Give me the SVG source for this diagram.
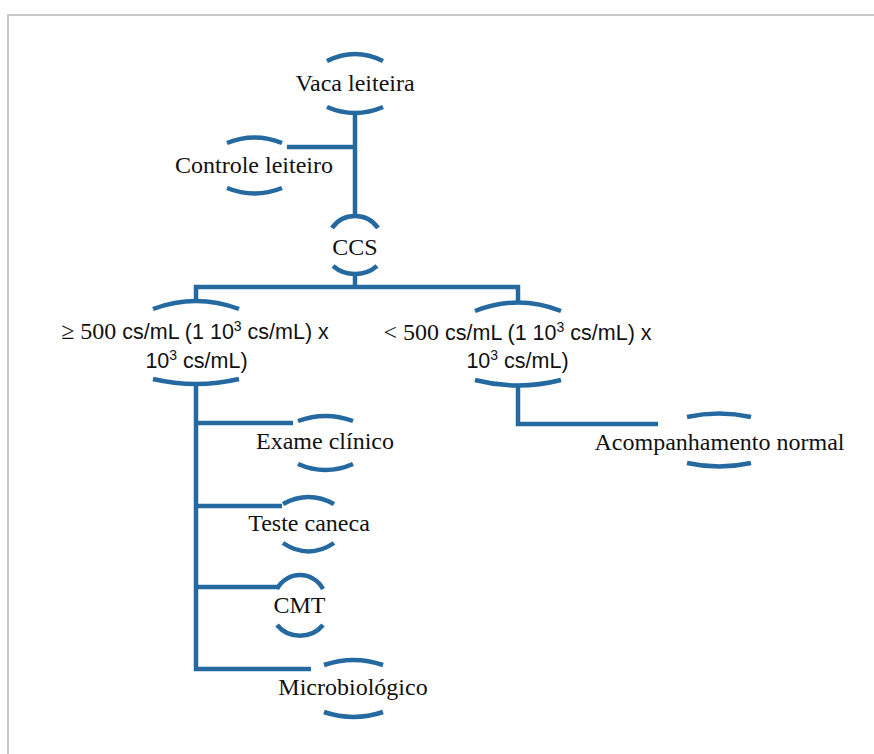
<svg xmlns="http://www.w3.org/2000/svg" width="874" height="754" viewBox="0 0 874 754">
<style>
.arc{fill:none;stroke:#246aa1;stroke-width:4.5;stroke-linecap:butt}
.con{fill:none;stroke:#246aa1;stroke-width:4.5;stroke-linejoin:miter}
.t{font-family:"Liberation Serif","Times New Roman",serif;font-size:24px;fill:#111;text-anchor:middle}
.s{font-family:"Liberation Sans",Arial,sans-serif;font-size:21.5px}
.sup{font-size:14px}
</style>
<rect x="8" y="15" width="900" height="800" fill="#fff" stroke="#c8c8c8" stroke-width="2"/>
<g id="connectors">
<path class="con" d="M355 113 V217"/>
<path class="con" d="M287 147 H355"/>
<path class="con" d="M355 273 V287"/>
<path class="con" d="M196 301 V287 H518 V302"/>
<path class="con" d="M518 385 V424 H658"/>
<path class="con" d="M196 384 V669 H311"/>
<path class="con" d="M196 423 H293"/>
<path class="con" d="M196 506 H282"/>
<path class="con" d="M196 587 H278"/>
</g>
<g id="vaca">
<path class="arc" d="M327 61 Q355 47 383 61"/>
<path class="arc" d="M327 107 Q355 119 383 107"/>
<text class="t" x="355" y="91">Vaca leiteira</text>
</g>
<g id="controle">
<path class="arc" d="M227 143 Q254.5 132 282 143"/>
<path class="arc" d="M227 188 Q254.5 199 282 188"/>
<text class="t" x="254" y="173">Controle leiteiro</text>
</g>
<g id="ccs">
<path class="arc" d="M332 228 A28 28 0 0 1 378 228"/>
<path class="arc" d="M333 266 A34 34 0 0 0 377 266"/>
<text class="t" x="355" y="255">CCS</text>
</g>
<g id="maior">
<path class="arc" d="M153 309 Q196 293 239 309"/>
<path class="arc" d="M153 379 Q196 389 239 379"/>
<text class="t" x="195" y="339">≥ 500 <tspan class="s">cs/mL (1 10</tspan><tspan class="s sup" dy="-8">3</tspan><tspan class="s" dy="8"> cs/mL) x</tspan></text>
<text class="t" x="196.5" y="368"><tspan class="s">10</tspan><tspan class="s sup" dy="-8">3</tspan><tspan class="s" dy="8"> cs/mL)</tspan></text>
</g>
<g id="menor">
<path class="arc" d="M475 311 Q518 294 561 311"/>
<path class="arc" d="M475 380 Q518 391 561 380"/>
<text class="t" x="517.5" y="340">&lt; 500 <tspan class="s">cs/mL (1 10</tspan><tspan class="s sup" dy="-8">3</tspan><tspan class="s" dy="8"> cs/mL) x</tspan></text>
<text class="t" x="517.5" y="368"><tspan class="s">10</tspan><tspan class="s sup" dy="-8">3</tspan><tspan class="s" dy="8"> cs/mL)</tspan></text>
</g>
<g id="acompanhamento">
<path class="arc" d="M687 417 Q719 410 751 417"/>
<path class="arc" d="M687 463 Q719 470 751 463"/>
<text class="t" x="719.5" y="450">Acompanhamento normal</text>
</g>
<g id="exame">
<path class="arc" d="M298 421 Q325.5 411 353 421"/>
<path class="arc" d="M298 464 Q325.5 476 353 464"/>
<text class="t" x="325" y="449">Exame clínico</text>
</g>
<g id="teste">
<path class="arc" d="M283 504 Q308.5 490 334 504"/>
<path class="arc" d="M283 543 Q308.5 560 334 543"/>
<text class="t" x="309" y="531">Teste caneca</text>
</g>
<g id="cmt">
<path class="arc" d="M277 589 A26 26 0 0 1 323 589"/>
<path class="arc" d="M277 625 A30 30 0 0 0 323 625"/>
<text class="t" x="299.5" y="613">CMT</text>
</g>
<g id="microbiologico">
<path class="arc" d="M324 665 Q353.5 655 383 665"/>
<path class="arc" d="M324 712 Q353.5 722 383 712"/>
<text class="t" x="353" y="695">Microbiológico</text>
</g>
</svg>
